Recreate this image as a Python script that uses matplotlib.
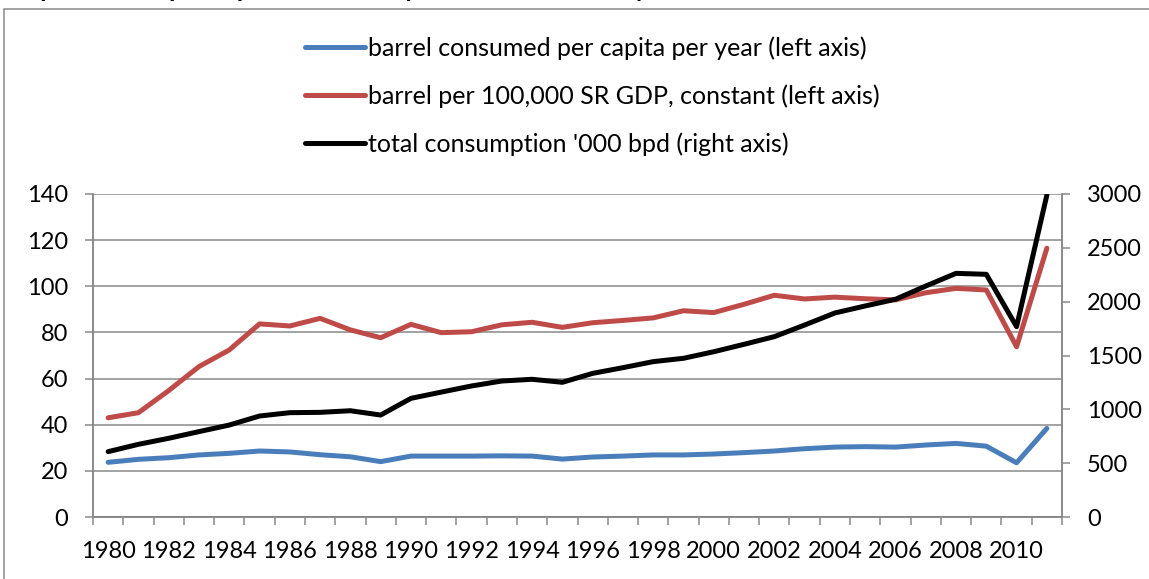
import numpy as np
import matplotlib.pyplot as plt
from matplotlib.patches import Rectangle
from matplotlib.ticker import MultipleLocator

# Dados
anos = list(range(1980, 2012))
per_capita = [23.7, 25.0, 25.7, 26.9, 27.6, 28.6, 28.2, 27.0, 26.1, 24.0,
              26.4, 26.4, 26.4, 26.5, 26.4, 25.1, 26.0, 26.4, 26.9, 26.9,
              27.3, 27.9, 28.6, 29.6, 30.3, 30.5, 30.3, 31.2, 31.9, 30.7,
              23.5, 38.4]
por_pib = [43.0, 45.2, 54.8, 65.2, 72.4, 83.7, 82.8, 86.1, 81.1, 77.7,
           83.5, 79.9, 80.3, 83.3, 84.4, 82.2, 84.2, 85.2, 86.3, 89.4,
           88.6, 92.2, 96.1, 94.5, 95.3, 94.6, 94.1, 97.2, 99.1, 98.4,
           73.8, 116.5]
consumo_total = [607, 675, 731, 793, 854, 938, 969, 972, 987, 947,
                 1102, 1160, 1217, 1263, 1279, 1251, 1334, 1387, 1443, 1474,
                 1535, 1604, 1675, 1783, 1895, 1960, 2022, 2145, 2263, 2254,
                 1768, 2990]
rotulos = ['barrel consumed per capita per year (left axis)',
           'barrel per 100,000 SR GDP, constant (left axis)',
           "total consumption '000 bpd (right axis)"]

plt.rcParams['font.family'] = ['Lato', 'DejaVu Sans']
cinza = '#868686'
px = 72 / 100  # pontos por pixel
fs = 17

fig = plt.figure(figsize=(11.49, 5.79), dpi=100)
ax = fig.add_axes([93 / 1149, 62 / 579, 969 / 1149, 323 / 579])

# Moldura do gráfico e título (cortado no topo, como no original)
fig.patches.append(Rectangle((4 / 1149, -0.1), 1.2, 1 - 9 / 579 + 0.1,
                             transform=fig.transFigure, fill=False,
                             edgecolor=cinza, lw=1.5 * px))
fig.text(0.0, 1 + 3 / 579,
         'Graph 4: Saudi per capita oil consumption and oil intensity since 1980',
         fontsize=18, fontweight='bold', va='baseline', ha='left')

l1, = ax.plot(anos, per_capita, color='#4A7EBB', lw=5 * px, solid_capstyle='round')
l2, = ax.plot(anos, por_pib, color='#BE4B48', lw=5 * px, solid_capstyle='round')
ax.set_ylim(0, 140)
ax.yaxis.set_major_locator(MultipleLocator(20))
ax.set_xlim(1979.5, 2011.5)
ax.set_xticks(anos[::2])
ax.set_xticks(np.arange(1979.5, 2012, 1), minor=True)
ax.tick_params(axis='x', which='major', length=0, pad=24 * px, labelsize=fs)
ax.tick_params(axis='x', which='minor', length=8 * px, width=1.5 * px, color=cinza)
ax.tick_params(axis='y', length=8 * px, width=1.5 * px, color=cinza, pad=17 * px, labelsize=fs)
ax.yaxis.grid(True, color=cinza, lw=1.5 * px)
ax.set_axisbelow(True)
for lado in ['left', 'right', 'bottom']:
    ax.spines[lado].set_color(cinza)
    ax.spines[lado].set_linewidth(1.5 * px)
ax.spines['top'].set_visible(False)

# Eixo da direita
ax2 = ax.twinx()
l3, = ax2.plot(anos, consumo_total, color='black', lw=5 * px, solid_capstyle='round')
ax2.set_ylim(0, 3000)
ax2.yaxis.set_major_locator(MultipleLocator(500))
ax2.tick_params(axis='y', length=8 * px, width=1.5 * px, color=cinza, pad=17 * px, labelsize=fs)
for lado in ['left', 'right', 'bottom']:
    ax2.spines[lado].set_color(cinza)
    ax2.spines[lado].set_linewidth(1.5 * px)
ax2.spines['top'].set_visible(False)

fig.legend([l1, l2, l3], rotulos, loc='upper left',
           bbox_to_anchor=(305 / 1149, 1 - 36 / 579), frameon=False,
           fontsize=18, handlelength=2.4, handletextpad=0.12,
           labelspacing=0.98, borderpad=0, borderaxespad=0)

fig.savefig('out.png', dpi=100)
